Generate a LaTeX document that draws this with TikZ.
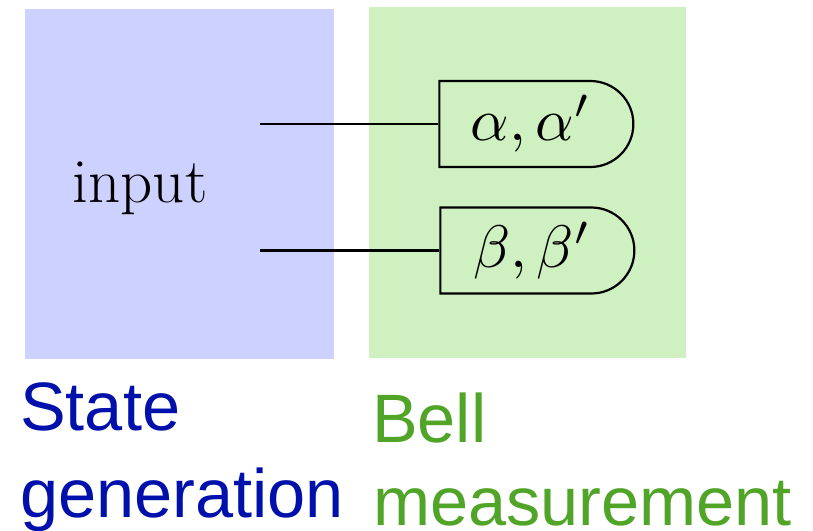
\documentclass[tikz,border=0pt]{standalone}
\usepackage{graphicx}
\usepackage{fontspec}
\newfontfamily\labfont{Liberation Sans}
\usetikzlibrary{shapes.misc}
\definecolor{stateblue}{RGB}{204,209,255}
\definecolor{bellgreen}{RGB}{207,240,192}
\definecolor{statetext}{RGB}{0,16,170}
\definecolor{belltext}{RGB}{80,165,40}
\newcommand{\bigmath}[1]{\scalebox{6}{$#1$}}
\tikzset{
  meterbox/.style={draw=black, line width=2.2pt, rounded rectangle, rounded rectangle left arc=none,
    minimum width=194pt, minimum height=86pt, inner sep=0pt},
  wire/.style={draw=black, line width=2.2pt},
  labstate/.style={anchor=base west, inner sep=0pt, text=statetext, font=\labfont\fontsize{68.5}{80}\selectfont},
  labbell/.style={anchor=base west, inner sep=0pt, text=belltext, font=\labfont\fontsize{68.5}{80}\selectfont}
}
\begin{document}
\begin{tikzpicture}[x=1pt,y=-1pt]
\useasboundingbox (0,0) rectangle (813,530);
\fill[stateblue] (25,9) rectangle (334,359);
\fill[bellgreen] (369,7) rectangle (686,358);
\node[anchor=base, inner sep=0pt, font=\fontsize{63}{75}\selectfont] (input) at (140,202) {input};
\node[meterbox] (m1) at (531,124) {\bigmath{\alpha,\alpha'}};
\node[meterbox] (m2) at (532,250.5) {\bigmath{\beta,\beta'}};
\coordinate (i1) at (260,124);
\coordinate (i2) at (260,250.5);
\draw[wire] (i1) -- (m1.west);
\draw[wire] (i2) -- (m2.west);
\node[labstate] (s1) at (20,430) {State};
\node[labstate] (s2) at (20,517) {generation};
\node[labbell] (b1) at (372,442) {Bell};
\node[labbell] (b2) at (373,525) {measurement};
\end{tikzpicture}
\end{document}
